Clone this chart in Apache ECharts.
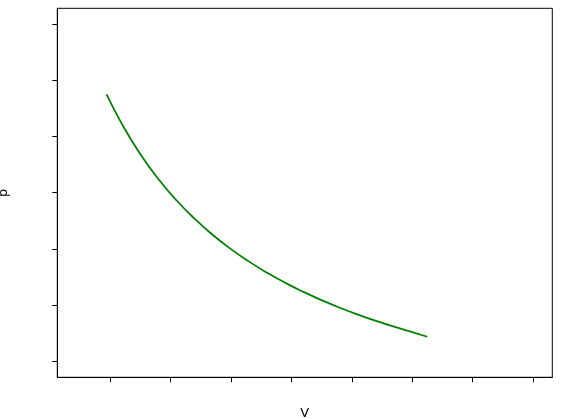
<!DOCTYPE html>
<html><head><meta charset="utf-8">
<script src="https://cdn.jsdelivr.net/npm/echarts@6/dist/echarts.min.js"></script>
<style>html,body{margin:0;padding:0;background:#fff}#c{width:563px;height:419px}</style>
</head><body><div id="c"></div>
<script>
const vValues = [0.94,1.2,1.5,1.8,2.1,2.4,2.7,3.0,3.3,3.6,3.9,4.2,4.5,4.8,5.1,5.4,5.7,6.0,6.25];
const pValues = [4.754,4.214,3.685,3.240,2.861,2.533,2.247,1.995,1.772,1.572,1.393,1.232,1.085,0.951,0.828,0.716,0.612,0.516,0.433];
const xTicks = [1,2,3,4,5,6,7,8];
const yTicks = [0,1,2,3,4,5,6];
const xName = 'V';
const yName = 'p';

const chart = echarts.init(document.getElementById('c'), null, {renderer:'canvas'});
const font = 'DejaVu Sans';
chart.setOption({
  animation:false,
  grid:{left:57.3, right:10.7, top:8.3, bottom:41.7, outerBoundsMode:'none', containLabel:false,
    show:true, borderColor:'#000', borderWidth:1, backgroundColor:'transparent'},
  xAxis:{type:'value', min:0.124, max:8.32, name:xName, nameLocation:'middle', nameGap:30,
    nameTextStyle:{fontFamily:font, fontSize:13, color:'#000'},
    axisLine:{show:true, onZero:false, lineStyle:{color:'#000', width:1}},
    axisTick:{show:true, inside:false, length:5, customValues:xTicks, lineStyle:{color:'#000', width:1}},
    axisLabel:{show:false}, splitLine:{show:false}},
  yAxis:{type:'value', min:-0.29, max:6.287, name:yName, nameLocation:'middle', nameGap:47, nameRotate:90,
    nameTextStyle:{fontFamily:font, fontSize:13, color:'#000'},
    axisLine:{show:true, onZero:false, lineStyle:{color:'#000', width:1}},
    axisTick:{show:true, inside:false, length:5, customValues:yTicks, lineStyle:{color:'#000', width:1}},
    axisLabel:{show:false}, splitLine:{show:false}},
  series:[{type:'line', data:vValues.map((v,i)=>[v,pValues[i]]), smooth:true, showSymbol:false,
    lineStyle:{color:'#008000', width:1.75}}]
});
</script></body></html>
